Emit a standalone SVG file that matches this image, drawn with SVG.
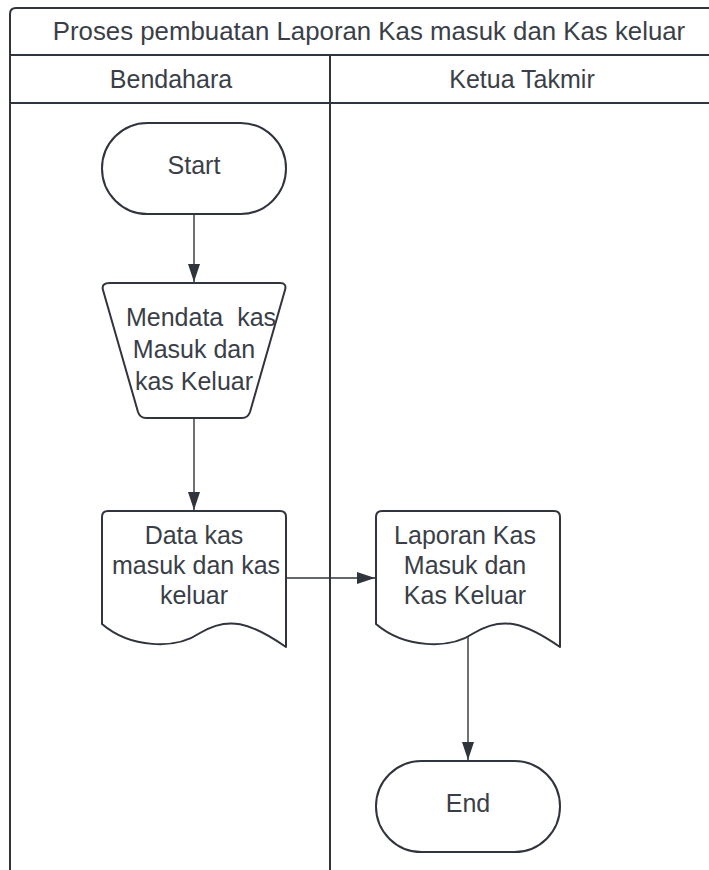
<svg xmlns="http://www.w3.org/2000/svg" width="709" height="870" viewBox="0 0 709 870">
  <defs>
    <style>
      .lane { fill: none; stroke: #30353d; stroke-width: 2; }
      .shape { fill: #ffffff; stroke: #30353d; stroke-width: 2; stroke-linejoin: round; }
      .conn { fill: none; stroke: #30353d; stroke-width: 1.4; }
      .txt { font-family: "Liberation Sans", Arial, sans-serif; font-size: 25px; fill: #3a3f47; text-anchor: middle; }
      .hdr { font-family: "Liberation Sans", Arial, sans-serif; font-size: 25px; fill: #3a3f47; text-anchor: middle; }
      .title { font-size: 25.8px; }
    </style>
    <marker id="arrow" markerUnits="userSpaceOnUse" markerWidth="18" markerHeight="12" refX="18" refY="6" orient="auto">
      <path d="M0,0 L18,6 L0,12 Z" fill="#30353d"/>
    </marker>
  </defs>

  <rect x="0" y="0" width="709" height="870" fill="#ffffff"/>

  <!-- swimlane frame -->
  <g id="pool">
    <path class="lane" d="M10,871 V14 Q10,8 16,8 H720"/>
    <line class="lane" x1="10" y1="55" x2="720" y2="55"/>
    <line class="lane" x1="10" y1="103" x2="720" y2="103"/>
    <line class="lane" x1="330" y1="55" x2="330" y2="871"/>
    <text class="hdr title" x="369" y="40">Proses pembuatan Laporan Kas masuk dan Kas keluar</text>
    <text class="hdr" x="171" y="88">Bendahara</text>
    <text class="hdr" x="522" y="88">Ketua Takmir</text>
  </g>

  <!-- connectors -->
  <g id="connectors">
    <line class="conn" x1="194" y1="214" x2="194" y2="282" marker-end="url(#arrow)"/>
    <line class="conn" x1="194" y1="418" x2="194" y2="510" marker-end="url(#arrow)"/>
    <line class="conn" x1="286" y1="578" x2="375" y2="578" marker-end="url(#arrow)"/>
    <line class="conn" x1="468" y1="636" x2="468" y2="760" marker-end="url(#arrow)"/>
  </g>

  <g id="start">
    <rect class="shape" x="102" y="123" width="184" height="91" rx="45.5" ry="45.5"/>
    <text class="txt" x="194" y="174">Start</text>
  </g>

  <g id="mendata">
    <path class="shape" d="M110,283 H280 Q287,283 285,290 L250,412 Q248,418 242,418 H146 Q140,418 138,412 L103,290 Q101,283 110,283 Z"/>
    <text class="txt" x="201" y="326" xml:space="preserve">Mendata  kas</text>
    <text class="txt" x="194" y="358">Masuk dan</text>
    <text class="txt" x="194" y="390">kas Keluar</text>
  </g>

  <g id="data-kas">
    <path class="shape" d="M102,624 V517 Q102,511 108,511 H280 Q286,511 286,517 V647 C250,622 228,616 200,633 C175,650 130,648 102,624 Z"/>
    <text class="txt" x="194" y="544">Data kas</text>
    <text class="txt" x="196" y="574">masuk dan kas</text>
    <text class="txt" x="194" y="604">keluar</text>
  </g>

  <g id="laporan">
    <path class="shape" d="M376,624 V517 Q376,511 382,511 H554 Q560,511 560,517 V647 C524,622 502,616 474,633 C449,650 404,648 376,624 Z"/>
    <text class="txt" x="465" y="544">Laporan Kas</text>
    <text class="txt" x="465" y="574">Masuk dan</text>
    <text class="txt" x="465" y="604">Kas Keluar</text>
  </g>

  <g id="end">
    <rect class="shape" x="376" y="761" width="184" height="91" rx="45.5" ry="45.5"/>
    <text class="txt" x="468" y="812">End</text>
  </g>
</svg>
